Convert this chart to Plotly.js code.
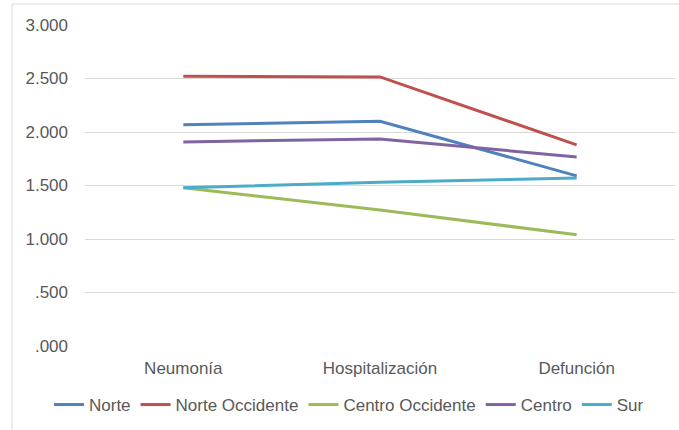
<!DOCTYPE html>
<html>
<head>
<meta charset="utf-8">
<script src="https://cdn.plot.ly/plotly-3.0.1.min.js"></script>
<style>html,body{margin:0;padding:0;background:#fff;}#chart{width:679px;height:430px;}</style>
</head>
<body>
<div id="chart"></div>
<script>
const categories = ["Neumonía", "Hospitalización", "Defunción"];
const seriesNames = ["Norte", "Norte Occidente", "Centro Occidente", "Centro", "Sur"];
const norte = [2.067, 2.100, 1.590];
const norteOccidente = [2.520, 2.515, 1.880];
const centroOccidente = [1.478, 1.270, 1.040];
const centro = [1.907, 1.935, 1.767];
const sur = [1.478, 1.530, 1.570];
const seriesColors = ["#4F81BD", "#C0504D", "#9BBB59", "#8064A2", "#4BACC6"];
const yTickVals = [0, 0.5, 1, 1.5, 2, 2.5, 3];
const yTickText = [".000", ".500", "1.000", "1.500", "2.000", "2.500", "3.000"];

const allSeries = [norte, norteOccidente, centroOccidente, centro, sur];
const traces = allSeries.map((vals, i) => ({
  type: "scatter",
  mode: "lines",
  x: categories,
  y: vals,
  name: seriesNames[i],
  line: {color: seriesColors[i], width: 3}
}));

const W = 679, H = 430;
const L = 85, R = 4, T = 25, B = 84;
const pw = W - L - R, ph = H - T - B;
const px = v => (v - L) / pw;
const py = v => (H - B - v) / ph;

const layout = {
  width: W, height: H,
  margin: {l: L, r: R, t: T, b: B},
  paper_bgcolor: "#ffffff",
  plot_bgcolor: "#ffffff",
  font: {family: "Liberation Sans, Arial, sans-serif", size: 17, color: "#595959"},
  showlegend: true,
  legend: {
    orientation: "h",
    x: px(49), xanchor: "left",
    y: py(405), yanchor: "middle",
    font: {size: 17, color: "#595959"},
    itemwidth: 30,
    tracegroupgap: 0,
    bgcolor: "rgba(0,0,0,0)"
  },
  xaxis: {
    type: "category",
    range: [-0.5, 2.5],
    showgrid: false,
    zeroline: false,
    showline: false,
    ticks: "",
    ticklabelstandoff: 10,
    tickfont: {size: 17, color: "#595959"},
    fixedrange: true
  },
  yaxis: {
    range: [0, 3],
    tickvals: yTickVals,
    ticktext: yTickText,
    showgrid: true,
    gridcolor: "#D9D9D9",
    gridwidth: 1,
    zeroline: false,
    showline: false,
    ticks: "",
    ticklabelstandoff: 16,
    tickfont: {size: 17, color: "#595959"},
    fixedrange: true
  },
  shapes: [
    {type: "line", xref: "paper", yref: "paper", x0: px(12), x1: px(12), y0: py(4), y1: py(440), line: {color: "#D9D9D9", width: 1}},
    {type: "line", xref: "paper", yref: "paper", x0: px(12), x1: px(690), y0: py(4), y1: py(4), line: {color: "#D9D9D9", width: 1}}
  ]
};

Plotly.newPlot("chart", traces, layout, {displayModeBar: false, staticPlot: true});
</script>
</body>
</html>
